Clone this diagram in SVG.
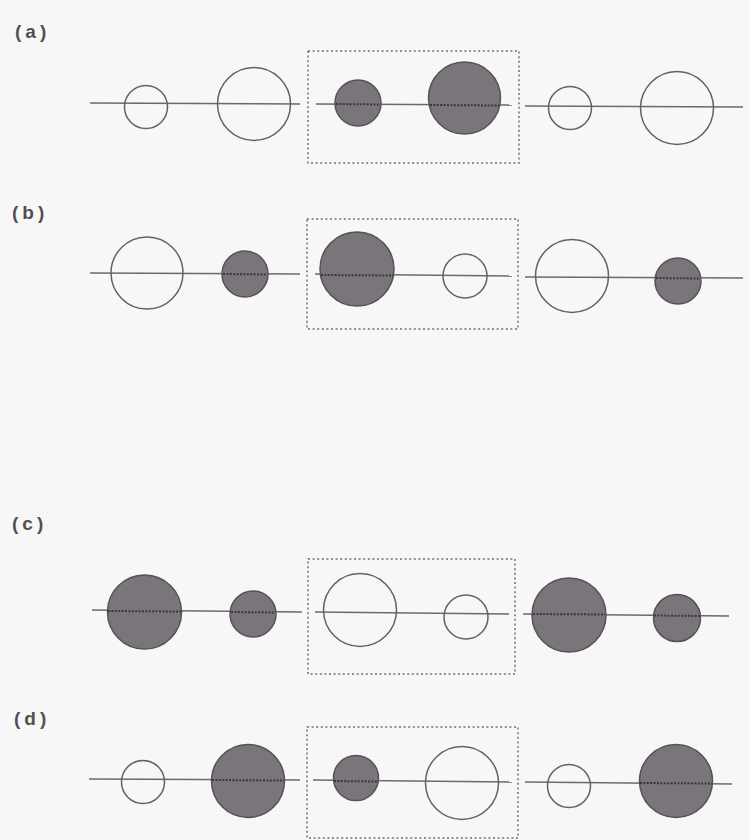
<svg xmlns="http://www.w3.org/2000/svg" width="749" height="840" viewBox="0 0 749 840">
<style>
.bg{fill:#f8f7f7}
.lbl{font-family:"Liberation Sans",Arial,sans-serif;font-weight:bold;font-size:19px;fill:#505050;letter-spacing:4px}
.ax{stroke:#6a6a6a;stroke-width:1.4;fill:none}
.open{fill:none;stroke:#626262;stroke-width:1.5}
.full{fill:#7a757a;stroke:#555155;stroke-width:1.5}
.dot{stroke:#3a363a;stroke-width:2;stroke-dasharray:2 1.4;fill:none}
.box{fill:none;stroke:#707070;stroke-width:1.5;stroke-dasharray:2 2.6}
</style>
<rect class="bg" x="0" y="0" width="749" height="840"/>

<g id="labels">
<text id="label-a" class="lbl" x="15" y="38">(a)</text>
<text id="label-b" class="lbl" x="12" y="219">(b)</text>
<text id="label-c" class="lbl" x="12" y="530">(c)</text>
<text id="label-d" class="lbl" x="14" y="725">(d)</text>
</g>

<g id="boxes">
<rect id="box-a" class="box" x="308" y="51" width="211" height="112"/>
<rect id="box-b" class="box" x="307" y="219" width="211" height="110"/>
<rect id="box-c" class="box" x="308" y="559" width="207" height="115"/>
<rect id="box-d" class="box" x="307" y="727" width="211" height="111"/>
</g>

<g id="connectors">
<line class="ax" x1="90" y1="103" x2="300" y2="104"/>
<line class="ax" x1="316" y1="104" x2="512" y2="105"/>
<line class="ax" x1="525" y1="106" x2="743" y2="107"/>
<line class="ax" x1="90" y1="273" x2="300" y2="274"/>
<line class="ax" x1="315" y1="274" x2="512" y2="276"/>
<line class="ax" x1="525" y1="277" x2="743" y2="278"/>
<line class="ax" x1="92" y1="610" x2="302" y2="612"/>
<line class="ax" x1="315" y1="612" x2="509" y2="614"/>
<line class="ax" x1="523" y1="614" x2="729" y2="616"/>
<line class="ax" x1="89" y1="779" x2="300" y2="780"/>
<line class="ax" x1="313" y1="780" x2="512" y2="782"/>
<line class="ax" x1="525" y1="782" x2="732" y2="784"/>
</g>

<g id="row-a">
<g id="a1"><circle class="open" cx="146" cy="107" r="21.5"/></g>
<g id="a2"><circle class="open" cx="254" cy="104" r="36.5"/></g>
<g id="a3"><circle class="full" cx="358" cy="103" r="23"/><line class="dot" x1="336" y1="104" x2="380" y2="104.5"/></g>
<g id="a4"><circle class="full" cx="464.5" cy="98" r="36"/><line class="dot" x1="430" y1="105" x2="499" y2="105.5"/></g>
<g id="a5"><circle class="open" cx="570" cy="108" r="21.5"/></g>
<g id="a6"><circle class="open" cx="677" cy="108" r="36.5"/></g>
</g>

<g id="row-b">
<g id="b1"><circle class="open" cx="147" cy="273" r="36"/></g>
<g id="b2"><circle class="full" cx="245" cy="274" r="23"/><line class="dot" x1="223" y1="274" x2="267" y2="274.5"/></g>
<g id="b3"><circle class="full" cx="357" cy="269" r="37"/><line class="dot" x1="321" y1="275" x2="393" y2="275.5"/></g>
<g id="b4"><circle class="open" cx="465" cy="276" r="22"/></g>
<g id="b5"><circle class="open" cx="572" cy="276" r="36.5"/></g>
<g id="b6"><circle class="full" cx="678" cy="281" r="23"/><line class="dot" x1="656" y1="278" x2="700" y2="278.5"/></g>
</g>

<g id="row-c">
<g id="c1"><circle class="full" cx="144.5" cy="612" r="37"/><line class="dot" x1="108" y1="611" x2="181" y2="611.5"/></g>
<g id="c2"><circle class="full" cx="253" cy="614" r="23"/><line class="dot" x1="231" y1="612" x2="275" y2="612.5"/></g>
<g id="c3"><circle class="open" cx="360" cy="610" r="36.5"/></g>
<g id="c4"><circle class="open" cx="466" cy="617" r="22"/></g>
<g id="c5"><circle class="full" cx="569" cy="615" r="37"/><line class="dot" x1="533" y1="614" x2="605" y2="614.5"/></g>
<g id="c6"><circle class="full" cx="677" cy="618" r="23.5"/><line class="dot" x1="654" y1="615.5" x2="700" y2="616"/></g>
</g>

<g id="row-d">
<g id="d1"><circle class="open" cx="143" cy="782" r="21.5"/></g>
<g id="d2"><circle class="full" cx="248" cy="781" r="36.5"/><line class="dot" x1="212" y1="780" x2="284" y2="780.5"/></g>
<g id="d3"><circle class="full" cx="356" cy="778" r="22.5"/><line class="dot" x1="334" y1="781" x2="378" y2="781.5"/></g>
<g id="d4"><circle class="open" cx="462" cy="783" r="36.5"/></g>
<g id="d5"><circle class="open" cx="569" cy="786" r="21.5"/></g>
<g id="d6"><circle class="full" cx="676" cy="781" r="36.5"/><line class="dot" x1="640" y1="783" x2="712" y2="783.5"/></g>
</g>
</svg>
